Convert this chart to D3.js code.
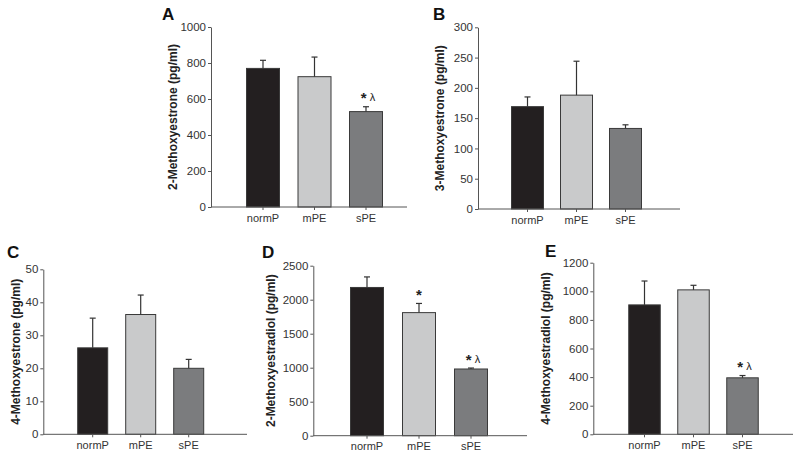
<!DOCTYPE html>
<html><head><meta charset="utf-8">
<script src="https://cdn.jsdelivr.net/npm/d3@7"></script>
<style>body{margin:0;background:#fff}svg{display:block}text{font-family:"Liberation Sans",Arial,sans-serif}</style>
</head><body><svg id="c" width="800" height="460"></svg>
<script>
const categories = ["normP", "mPE", "sPE"];
const panelLetters = ["A", "B", "C", "D", "E"];
const yTitles = ["2-Methoxyestrone (pg/ml)", "3-Methoxyestrone (pg/ml)", "4-Methoxyestrone (pg/ml)", "2-Methoxyestradiol (pg/ml)", "4-Methoxyestradiol (pg/ml)"];
const meansA = [770, 724, 530];   const errTopA = [815, 833, 557];
const meansB = [169, 188, 133];   const errTopB = [185, 244, 139];
const meansC = [26.2, 36.3, 20.0]; const errTopC = [35.2, 42.2, 22.7];
const meansD = [2180, 1810, 981]; const errTopD = [2335, 1945, 995];
const meansE = [905, 1010, 395];  const errTopE = [1072, 1042, 411];
const ticksA = [0, 200, 400, 600, 800, 1000];
const ticksB = [0, 50, 100, 150, 200, 250, 300];
const ticksC = [0, 10, 20, 30, 40, 50];
const ticksD = [0, 500, 1000, 1500, 2000, 2500];
const ticksE = [0, 200, 400, 600, 800, 1000, 1200];
const annotA = ["", "", "* λ"];
const annotB = ["", "", ""];
const annotC = ["", "", ""];
const annotD = ["", "*", "* λ"];
const annotE = ["", "", "* λ"];
const barColors = ["#231f20", "#c9cacb", "#7b7c7e"];

const means = [meansA, meansB, meansC, meansD, meansE];
const errs = [errTopA, errTopB, errTopC, errTopD, errTopE];
const ticks = [ticksA, ticksB, ticksC, ticksD, ticksE];
const annots = [annotA, annotB, annotC, annotD, annotE];

// layout (geometry only)
const layout = [
  {ax: 211, top: 27, bot: 207, xEnd: 407, c0: 263, step: 51.5, w: 33, titleX: 173, lx: 162, ly: 20},
  {ax: 478, top: 27.3, bot: 209, xEnd: 680, c0: 527.5, step: 49, w: 32, titleX: 440, lx: 433, ly: 20},
  {ax: 43.3, top: 269.3, bot: 434.3, xEnd: 247, c0: 92.7, step: 48, w: 30, titleX: 16, lx: 7, ly: 258},
  {ax: 313.3, top: 265.7, bot: 435.7, xEnd: 527, c0: 367, step: 52, w: 33, titleX: 271, lx: 262, ly: 258},
  {ax: 593.3, top: 262.7, bot: 434.3, xEnd: 793, c0: 644.5, step: 49, w: 31.5, titleX: 546, lx: 545, ly: 257}
];

const svg = d3.select("#c");
const axisCol = "#555";
const textCol = "#333";

layout.forEach((L, p) => {
  const g = svg.append("g");
  const tk = ticks[p];
  const y = d3.scaleLinear().domain([0, tk[tk.length - 1]]).range([L.bot, L.top]);
  const pad = 1 - L.w / L.step;
  const x = d3.scaleBand().domain(categories)
    .range([L.c0 - L.step / 2, L.c0 + 2.5 * L.step])
    .paddingInner(pad).paddingOuter(pad / 2);

  // bars
  g.selectAll("rect.bar").data(categories).join("rect")
    .attr("x", d => x(d)).attr("width", x.bandwidth())
    .attr("y", (d, i) => y(means[p][i]))
    .attr("height", (d, i) => y(0) - y(means[p][i]))
    .attr("fill", (d, i) => barColors[i])
    .attr("stroke", "#3a3a3a").attr("stroke-width", 1);

  // error bars
  categories.forEach((d, i) => {
    const cx = x(d) + x.bandwidth() / 2;
    g.append("line").attr("x1", cx).attr("x2", cx)
      .attr("y1", y(means[p][i])).attr("y2", y(errs[p][i]))
      .attr("stroke", "#333").attr("stroke-width", 1.2);
    g.append("line").attr("x1", cx - 3).attr("x2", cx + 3)
      .attr("y1", y(errs[p][i])).attr("y2", y(errs[p][i]))
      .attr("stroke", "#333").attr("stroke-width", 1.2);
    const a = annots[p][i];
    if (a) {
      const t = g.append("text").attr("x", cx + (a.length > 1 ? 2 : 0)).attr("y", y(errs[p][i]) - 7)
        .attr("text-anchor", "middle").attr("fill", "#222");
      t.append("tspan").attr("font-size", 15).attr("font-weight", "bold").attr("dy", "0.25em").text("*");
      if (a.length > 1) t.append("tspan").attr("font-size", 11).attr("dy", "-0.2em").text(" λ");
    }
  });

  // y axis
  const ya = g.append("g").attr("transform", `translate(${L.ax},0)`)
    .call(d3.axisLeft(y).tickValues(tk).tickFormat(d3.format("d")).tickSize(3).tickPadding(2).tickSizeOuter(0));
  ya.select(".domain").attr("stroke", axisCol);
  ya.selectAll(".tick line").attr("stroke", axisCol);
  ya.selectAll(".tick text").attr("fill", textCol).attr("font-size", 11.5);

  // x axis
  const xa = g.append("g").attr("transform", `translate(0,${L.bot})`)
    .call(d3.axisBottom(x).tickSize(3).tickPadding(4));
  xa.select(".domain").remove();
  xa.selectAll(".tick line").attr("stroke", axisCol);
  xa.selectAll(".tick text").attr("fill", textCol).attr("font-size", 11);
  g.append("line").attr("x1", L.ax).attr("x2", L.xEnd).attr("y1", L.bot).attr("y2", L.bot)
    .attr("stroke", axisCol).attr("stroke-width", 1);

  // y title
  g.append("text")
    .attr("transform", `translate(${L.titleX},${(L.top + L.bot) / 2}) rotate(-90)`)
    .attr("text-anchor", "middle").attr("dy", "0.35em")
    .attr("font-size", 12).attr("font-weight", "bold").attr("fill", "#222")
    .text(yTitles[p]);

  // panel letter
  g.append("text").attr("x", L.lx).attr("y", L.ly)
    .attr("font-size", 17).attr("font-weight", "bold").attr("fill", "#111")
    .text(panelLetters[p]);
});
</script></body></html>
